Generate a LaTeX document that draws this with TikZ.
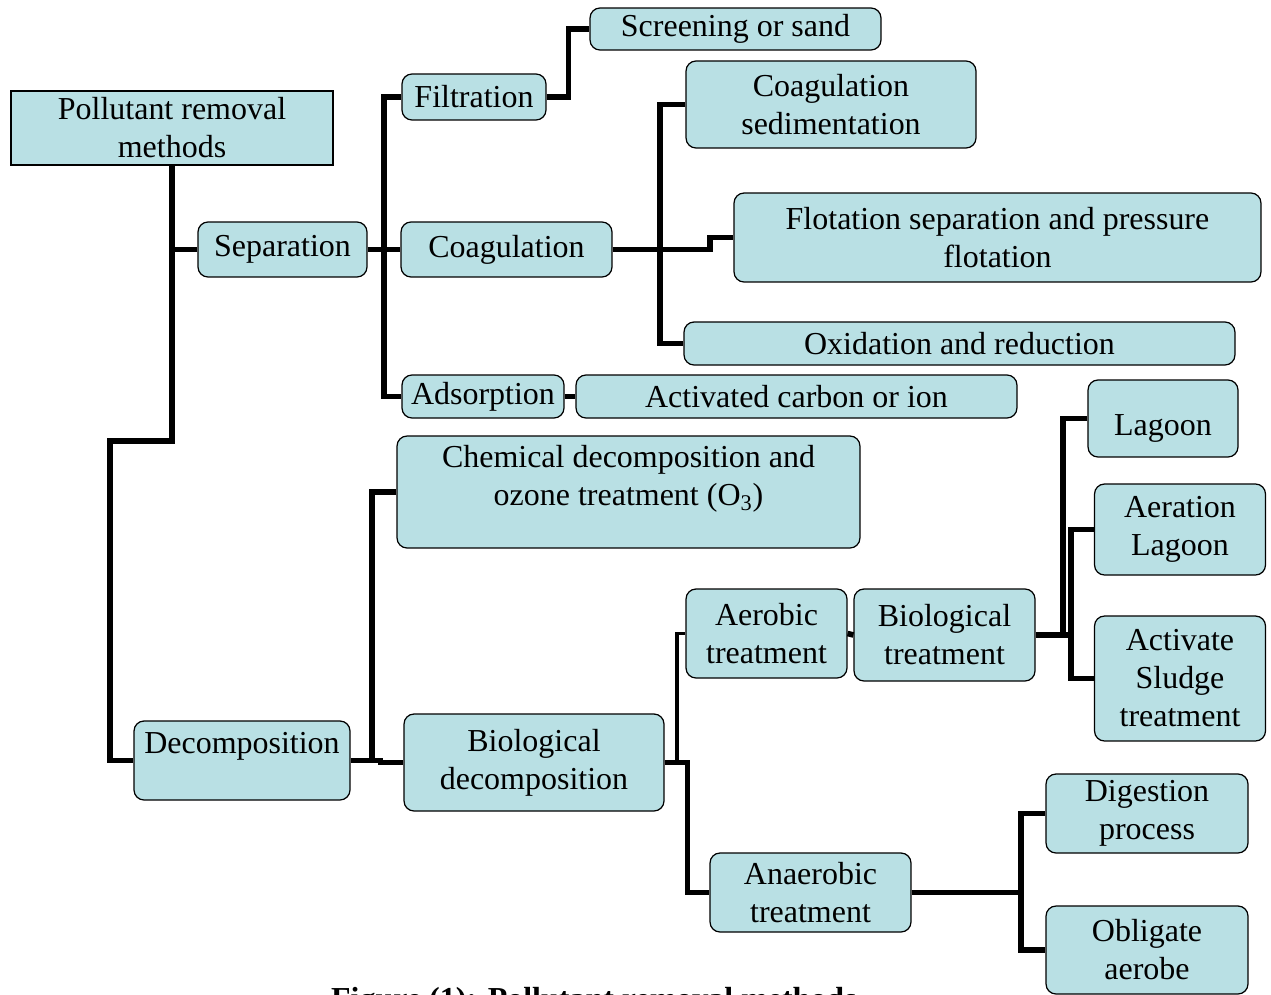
\documentclass[tikz,border=0pt]{standalone}
\usepackage{fontspec}
\setmainfont{Liberation Serif}
\usetikzlibrary{positioning}
\definecolor{boxblue}{RGB}{185,224,228}

\begin{document}
\begin{tikzpicture}[
  x=0.02cm, y=-0.02cm,
  font=\fontsize{18.2}{21.6}\selectfont,
  method/.style={rectangle, rounded corners=0.2cm, draw=black, fill=boxblue, line width=0.7pt, inner sep=0pt, align=center},
  rootbox/.style={method, sharp corners},
  link/.style={line width=3.2pt},
  thinlink/.style={line width=2.2pt}
]
\useasboundingbox (0,0) rectangle (1271,994);

% Root and first level
\node[rootbox, minimum width=6.44cm, minimum height=1.48cm] (root) at (172,128) {Pollutant removal\\methods};
\node[method, minimum width=3.38cm, minimum height=1.10cm] (sep) at (282.5,249.5) {Separation};
\node[method, minimum width=4.32cm, minimum height=1.58cm] (decomp) at (242,760.5) {Decomposition\\[-2pt]\mbox{}};

% Separation branch
\node[method, minimum width=2.88cm, minimum height=0.92cm] (filt) at (474,97) {Filtration};
\node[method, minimum width=4.22cm, minimum height=1.10cm] (coag) at (506.5,249.5) {Coagulation};
\node[method, minimum width=3.24cm, minimum height=0.86cm] (ads) at (483,396.5) {Adsorption};
\node[method, minimum width=5.82cm, minimum height=0.84cm] (screen) at (735.5,29) {Screening or sand};
\node[method, minimum width=5.80cm, minimum height=1.74cm] (coagsed) at (831,104.5) {Coagulation\\sedimentation};
\node[method, minimum width=10.54cm, minimum height=1.78cm] (flot) at (997.5,237.5) {Flotation separation and pressure\\flotation};
\node[method, minimum width=11.02cm, minimum height=0.86cm] (oxid) at (959.5,343.5) {Oxidation and reduction};
\node[method, minimum width=8.82cm, minimum height=0.86cm] (actc) at (796.5,396.5) {Activated carbon or ion};

% Decomposition branch
\node[method, minimum width=9.26cm, minimum height=2.24cm] (chem) at (628.5,492) {Chemical decomposition and\\ozone treatment (O\textsubscript{3})\\[-3pt]\mbox{}};
\node[method, minimum width=5.20cm, minimum height=1.94cm] (biodec) at (534,762.5) {Biological\\decomposition};
\node[method, minimum width=3.22cm, minimum height=1.78cm] (aerob) at (766.5,633.5) {Aerobic\\treatment};
\node[method, minimum width=3.62cm, minimum height=1.84cm] (biotreat) at (944.5,635) {Biological\\treatment};
\node[method, minimum width=4.02cm, minimum height=1.58cm] (anaer) at (810.5,892.5) {Anaerobic\\treatment};
\node[method, minimum width=3.00cm, minimum height=1.54cm] (lagoon) at (1163,418.5) {\mbox{}\\[2pt]Lagoon};
\node[method, minimum width=3.42cm, minimum height=1.82cm] (aerlag) at (1180,529.5) {Aeration\\Lagoon};
\node[method, minimum width=3.42cm, minimum height=2.50cm] (sludge) at (1180,678.5) {Activate\\Sludge\\treatment};
\node[method, minimum width=4.04cm, minimum height=1.58cm] (digest) at (1147,813.5) {Digestion\\process};
\node[method, minimum width=4.04cm, minimum height=1.76cm] (oblig) at (1147,950) {Obligate\\aerobe};

% Bus points
\coordinate (mainbend) at (172,441);
\coordinate (sepbus) at (384,249.5);
\coordinate (coagbus) at (660,249.5);
\coordinate (decbus) at (372,760.5);
\coordinate (biobus) at (1063,635);
\coordinate (sludgebus) at (1071,678.5);
\coordinate (anaerbus) at (1021,892.5);

% Connectors
\draw[link] (root.south) -- (mainbend) -- ++(-62,0) |- (decomp.west);
\draw[link] (sep.west) -- (sep.west -| root.south);
\draw[link] (sep.east) -- (coag.west);
\draw[link] (filt.west) -| (sepbus) |- (ads.west);
\draw[link] (filt.east) -- ++(22,0) |- (screen.west);
\draw[link] (coag.east) -- (710,249.5) |- (flot.west);
\draw[link] (coagsed.west) -| (coagbus) |- (oxid.west);
\draw[link] (ads.east) -- (actc.west);
\draw[link] (decomp.east) -- ++(30,0) |- (biodec.west);
\draw[link] (chem.west) -| (decbus);
\draw[thinlink] (biodec.east) -- ++(12,0) |- (aerob.west);
\draw[link] (biodec.east) -- ++(23,0) |- (anaer.west);
\draw[link] (aerob.east) -- (biotreat.west);
\draw[link] (biotreat.east) -- (biotreat.east -| sludgebus);
\draw[link] (lagoon.west) -| (biobus);
\draw[link] (aerlag.west) -| (sludgebus) -- (sludge.west);
\draw[link] (anaer.east) -- (anaerbus);
\draw[link] (digest.west) -| (anaerbus) |- (oblig.west);

% Caption, cut by the lower edge
\node[anchor=base west, font=\fontsize{18.2}{21.6}\selectfont\bfseries] (caption) at (325,1009) {Figure (1): Pollutant removal methods};
\end{tikzpicture}
\end{document}
